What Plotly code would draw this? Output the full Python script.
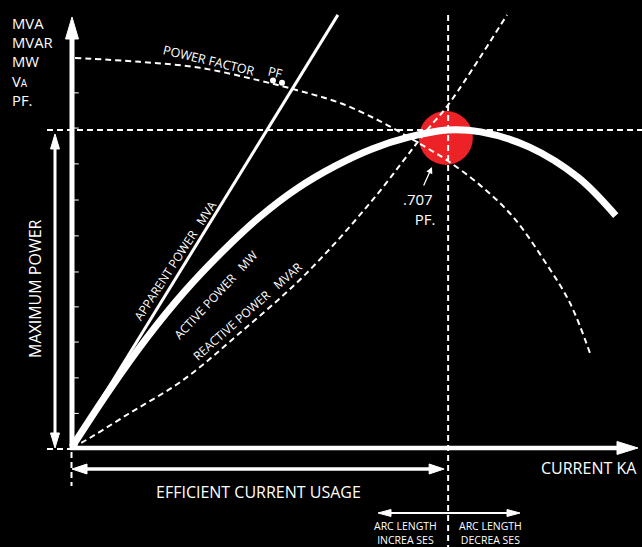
import math
import plotly.graph_objects as go

# ---------------- data ----------------
mw_current = [0, 1, 2, 3, 4, 5, 6, 7, 8, 9, 10, 10.9, 12.2, 13.5, 14.5]
mw_power = [0, 18, 34.5, 49, 61.5, 72.5, 81.5, 88.5, 94, 97.8, 100, 99.4, 94.6, 85, 73]

mva_current = [0, 7.09]
mva_power = [0, 136.3]

mvar_current = [0, 0.29, 1.5, 2.96, 4.48, 6.21, 7.95, 9.47, 10.03, 11.6]
mvar_power = [0, 1.6, 10.4, 21.1, 36.0, 54.3, 77.0, 100, 107.9, 136.3]

pf_current = [0.08, 1.81, 3.41, 4.93, 6.08, 7.15, 8.21, 9.01, 9.47, 10.03, 10.88, 11.76, 12.67, 13.28, 13.81]
pf_value = [122.7, 121.5, 119.6, 115.8, 112.3, 108.5, 102.8, 97.5, 94.3, 90.2, 82.6, 72.6, 57.4, 45.4, 29.7]

pf_dot_current = [5.36, 5.6]
pf_dot_value = [115.6, 114.9]

tick_power = [10.6, 21.8, 33.1, 44.2, 55.2, 66.6, 77.9, 89.3, 100.6, 111.7]

max_power_current = 10.03
max_power_value = 100
circle_point = (9.97, 97.5)

axis_labels = ["MVA", "MVAR", "MW", "V<span style='font-size:10px'>A</span>", "PF."]

# ---------------- geometry helpers ----------------
W, H = 642, 547
X_RANGE = [-1.92, 15.2]
Y_RANGE = [-31.55, 141.0]


def px_x(v):
    return (v - X_RANGE[0]) / (X_RANGE[1] - X_RANGE[0]) * W


def px_y(v):
    return (Y_RANGE[1] - v) / (Y_RANGE[1] - Y_RANGE[0]) * H


def dx(p):
    return X_RANGE[0] + p / W * (X_RANGE[1] - X_RANGE[0])


def dy(p):
    return Y_RANGE[1] - p / H * (Y_RANGE[1] - Y_RANGE[0])


WHITE = "white"
DASH = "6px,4px"
FONT = "Open Sans"

fig = go.Figure()

# red circle at max power point (drawn first, below lines)
fig.add_trace(go.Scatter(x=[circle_point[0]], y=[circle_point[1]], mode="markers",
                         marker=dict(size=54, color="#ec2227", line=dict(width=0)),
                         hoverinfo="skip", showlegend=False))


def line(xs, ys, width, dash=None, shape="linear"):
    fig.add_trace(go.Scatter(x=xs, y=ys, mode="lines",
                             line=dict(color=WHITE, width=width, dash=dash, shape=shape, smoothing=1.0),
                             hoverinfo="skip", showlegend=False))


# dashed guide lines
line([dx(47), X_RANGE[1]], [max_power_value, max_power_value], 2, DASH)
line([max_power_current, max_power_current], [dy(15), Y_RANGE[0]], 2, DASH)
line([dx(47), 0], [dy(449), dy(449)], 2, DASH)
line([dx(71.5), dx(71.5)], [dy(452), dy(486)], 2, DASH)

# curves
line(pf_current, pf_value, 2, DASH, "spline")
line(mvar_current, mvar_power, 2, DASH, "spline")
line(mva_current, mva_power, 3)
line(mw_current, mw_power, 7, None, "spline")

# PF dots
fig.add_trace(go.Scatter(x=pf_dot_current, y=pf_dot_value, mode="markers",
                         marker=dict(size=6, color=WHITE), hoverinfo="skip", showlegend=False))

# y axis small ticks
fig.add_trace(go.Scatter(x=[dx(76)] * len(tick_power), y=tick_power, mode="markers",
                         marker=dict(symbol="line-ew", size=4, line=dict(color=WHITE, width=1)),
                         hoverinfo="skip", showlegend=False))


def arrow(x0, y0, x1, y1, width, hl, hw, start=False, end=True):
    """arrow in pixel coordinates, head(s) as filled polygons"""
    L = math.hypot(x1 - x0, y1 - y0)
    ux, uy = (x1 - x0) / L, (y1 - y0) / L
    nx, ny = -uy, ux
    sx0, sy0 = x0, y0
    sx1, sy1 = x1, y1
    if start:
        sx0, sy0 = x0 + ux * hl * 0.7, y0 + uy * hl * 0.7
    if end:
        sx1, sy1 = x1 - ux * hl * 0.7, y1 - uy * hl * 0.7
    fig.add_trace(go.Scatter(x=[dx(sx0), dx(sx1)], y=[dy(sy0), dy(sy1)], mode="lines",
                             line=dict(color=WHITE, width=width), hoverinfo="skip", showlegend=False))
    heads = []
    if end:
        heads.append((x1, y1, ux, uy))
    if start:
        heads.append((x0, y0, -ux, -uy))
    for tx, ty, vx, vy in heads:
        bx, by = tx - vx * hl, ty - vy * hl
        px_pts = [(tx, ty), (bx + nx * hw / 2, by + ny * hw / 2), (bx - nx * hw / 2, by - ny * hw / 2), (tx, ty)]
        fig.add_trace(go.Scatter(x=[dx(p[0]) for p in px_pts], y=[dy(p[1]) for p in px_pts],
                                 mode="lines", fill="toself", fillcolor=WHITE,
                                 line=dict(color=WHITE, width=1), hoverinfo="skip", showlegend=False))


ox, oy = px_x(0), px_y(0)
# axes
arrow(ox - 2, oy + 1, 638, oy + 1, 4.5, 21, 13)
arrow(ox, oy + 3, ox, 17, 5, 22, 13)
# maximum power arrow
arrow(55, px_y(0) + 1, 55, px_y(max_power_value) + 4, 3, 15, 9, start=True)
# efficient current usage arrow
arrow(ox, 469, px_x(max_power_current) - 4, 469, 3.5, 15, 10, start=True)
# arc length arrows
arrow(378, 513, 520, 513, 2, 13, 7, start=True)

annotations = []


def text(t, x, y, size, angle=0, xanchor="center", align="center"):
    annotations.append(dict(text=t, x=x / W, y=1 - y / H, xref="paper", yref="paper",
                            showarrow=False, textangle=angle, xanchor=xanchor, yanchor="middle",
                            borderpad=0, align=align,
                            font=dict(family=FONT, size=size, color=WHITE)))


# stacked unit labels at top-left (one multi-line text block)
text("<br>".join(axis_labels), 11, 61.5, 14.8, xanchor="left", align="left")

text("MAXIMUM POWER", 35, 289, 16, angle=-90)
text("EFFICIENT CURRENT USAGE", 258, 492, 16)
text("CURRENT KA", 589, 468, 16)
text(".707<br>&nbsp;&nbsp;&nbsp;PF.", 402, 209, 15, xanchor="left", align="left")
text("ARC LENGTH<br>INCREA SES", 405, 533, 10.5)
text("ARC LENGTH<br>DECREA SES", 490, 533, 10.5)
text("POWER FACTOR", 209, 61, 12.5, angle=13.5)
text("PF", 275, 73, 12.5, angle=13.5)
text("APPARENT POWER&nbsp;&nbsp;&nbsp;MVA", 175, 260, 12, angle=-57)
text("ACTIVE POWER&nbsp;&nbsp;&nbsp;MW", 215, 295, 12, angle=-47)
text("REACTIVE POWER&nbsp;&nbsp;&nbsp;MVAR", 247, 311, 12, angle=-41.5)

# small arrow pointing from .707 label to the circle
annotations.append(dict(text="", x=dx(432), y=dy(167), xref="x", yref="y", showarrow=True,
                        ax=-9, ay=20, arrowhead=2, arrowsize=1, arrowwidth=1.3, arrowcolor=WHITE))

fig.update_layout(
    width=W, height=H,
    margin=dict(l=0, r=0, t=0, b=0),
    paper_bgcolor="black", plot_bgcolor="black",
    xaxis=dict(range=X_RANGE, visible=False, fixedrange=True),
    yaxis=dict(range=Y_RANGE, visible=False, fixedrange=True),
    showlegend=False,
    annotations=annotations,
)

fig.write_html("out.html", config={"displayModeBar": False},
               post_script="document.body.style.margin='0';document.body.style.background='black';")
